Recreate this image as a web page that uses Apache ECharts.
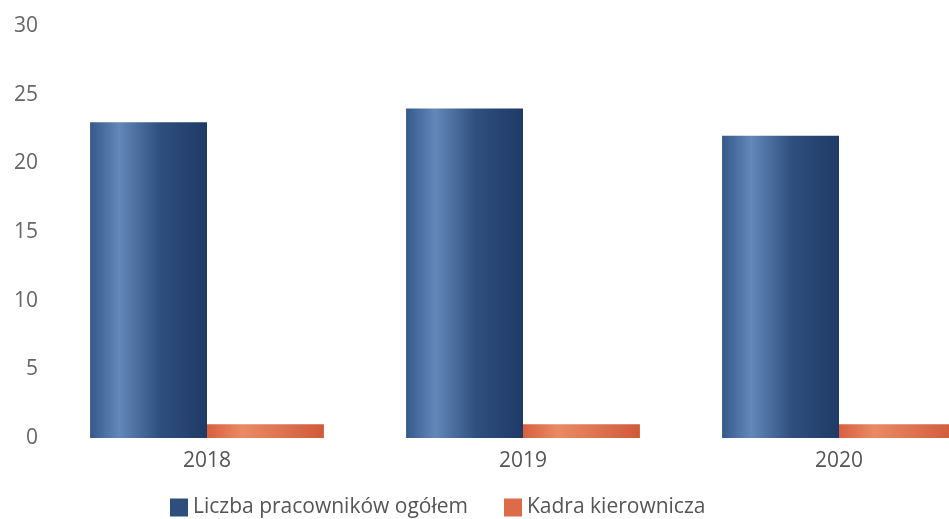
<!DOCTYPE html>
<html>
<head>
<meta charset="utf-8">
<title>Zatrudnienie</title>
<script src="https://cdn.jsdelivr.net/npm/echarts@6/dist/echarts.min.js"></script>
<style>
  html, body { margin: 0; padding: 0; background: #fff; }
  #chart { width: 949px; height: 519px; }
</style>
</head>
<body>
<div id="chart"></div>
<script>
var years = ['2018', '2019', '2020'];
var totalStaff = [23, 24, 22];
var management = [1, 1, 1];
var seriesNames = ['Liczba pracowników ogółem', 'Kadra kierownicza'];

// cylinder-like shading across each bar
function shade(stops) {
  return new echarts.graphic.LinearGradient(0, 0, 1, 0, stops);
}
var blueFill = shade([
  { offset: 0, color: '#34598a' },
  { offset: 0.25, color: '#6287b8' },
  { offset: 0.6, color: '#2e4f7e' },
  { offset: 1, color: '#1f3a66' }
]);
var orangeFill = shade([
  { offset: 0, color: '#d8603f' },
  { offset: 0.3, color: '#e98a66' },
  { offset: 1, color: '#d05a3a' }
]);

var chart = echarts.init(document.getElementById('chart'));
chart.setOption({
  animation: false,
  textStyle: { fontFamily: 'Open Sans' },
  // the last category runs past the right edge of the picture
  grid: { left: 49, width: 948, top: 26, bottom: 81, containLabel: false, outerBoundsMode: 'none' },
  legend: {
    left: 165,
    top: 492,
    icon: 'rect',
    itemWidth: 18,
    itemHeight: 18,
    itemGap: 36,
    textStyle: { fontSize: 21, color: '#555' },
    data: [
      { name: seriesNames[0], itemStyle: { color: '#2e4f7e' } },
      { name: seriesNames[1], itemStyle: { color: '#dd6a48' } }
    ]
  },
  xAxis: {
    type: 'category',
    data: years,
    axisLine: { show: false },
    axisTick: { show: false },
    axisLabel: { fontSize: 21, color: '#555', margin: 13 }
  },
  yAxis: {
    type: 'value',
    min: 0,
    max: 30,
    interval: 5,
    splitLine: { show: false },
    axisLine: { show: false },
    axisTick: { show: false },
    axisLabel: { fontSize: 21, color: '#666', margin: 11 }
  },
  series: [
    {
      name: seriesNames[0],
      type: 'bar',
      data: totalStaff,
      barGap: 0,
      barCategoryGap: '26%',
      itemStyle: { color: blueFill }
    },
    {
      name: seriesNames[1],
      type: 'bar',
      data: management,
      itemStyle: { color: orangeFill }
    }
  ]
});
</script>
</body>
</html>
